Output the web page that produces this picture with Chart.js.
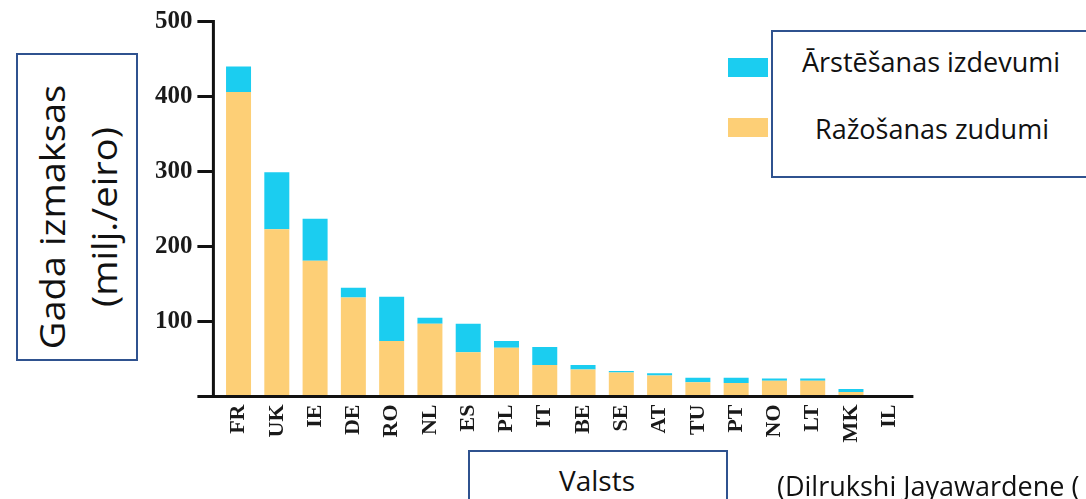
<!DOCTYPE html>
<html>
<head>
<meta charset="utf-8">
<script src="https://cdn.jsdelivr.net/npm/chart.js@4.4.1/dist/chart.umd.min.js"></script>
<style>
  html, body { margin: 0; padding: 0; background: #fff; }
  body { width: 1086px; height: 499px; position: relative; overflow: hidden; font-family: "Open Sans", sans-serif; color: #111; }
  #costChart { position: absolute; left: 0; top: 0; }
  .box { position: absolute; border: 2px solid #2F528F; box-sizing: border-box; background: #fff; }
  .txt { position: absolute; white-space: nowrap; line-height: 1; }
  .swatch { position: absolute; width: 40px; height: 19px; }
</style>
</head>
<body>
<canvas id="costChart" width="1086" height="499"></canvas>

<div class="box" style="left:16px; top:53px; width:122px; height:308px;"></div>
<div class="txt" id="yTitle" style="left:78px; top:217px; font-size:34px; line-height:52px; text-align:center; transform:translate(-50%,-50%) rotate(-90deg) scaleX(1.12);">Gada izmaksas<br>(milj./eiro)</div>

<div class="swatch" id="swMed" style="left:728px; top:58px;"></div>
<div class="swatch" id="swProd" style="left:728px; top:118px;"></div>
<div class="box" style="left:771px; top:30px; width:340px; height:148px;"></div>
<div class="txt" id="legMed" style="left:931px; top:48px; font-size:27px; transform:translateX(-50%);"></div>
<div class="txt" id="legProd" style="left:932px; top:115px; font-size:27px; transform:translateX(-50%);"></div>

<div class="box" style="left:468px; top:450px; width:260px; height:80px;"></div>
<div class="txt" style="left:597px; top:466px; font-size:28px; transform:translateX(-50%);">Valsts</div>

<div class="txt" style="left:777px; top:472px; font-size:27px;">(Dilrukshi Jayawardene (</div>

<script>
// Countries (x axis)
const countries = ["FR", "UK", "IE", "DE", "RO", "NL", "ES", "PL", "IT", "BE", "SE", "AT", "TU", "PT", "NO", "LT", "MK", "IL"];

// Annual cost, million EUR (stacked: production losses at the bottom, treatment costs on top)
const productionLosses = [406, 223, 181, 132, 74, 97, 59, 65, 42, 36, 32, 28, 19, 18, 21, 21, 6, 0];
const treatmentCosts = [34, 76, 56, 13, 59, 8, 38, 9, 24, 6, 2, 3, 6, 7, 3, 3, 4, 0];

// Y axis ticks
const yTicks = [0, 100, 200, 300, 400, 500];

const seriesNames = ["Ražošanas zudumi", "Ārstēšanas izdevumi"];
const colorProd = "#FDCF76";
const colorMed = "#1BCDF0";

// Hand-drawn style axes: vertical axis slightly left of the first bar, baseline running past it
const axisLines = {
  id: "axisLines",
  afterDatasetsDraw(chart) {
    const { ctx, chartArea, scales } = chart;
    const y = scales.y;
    const axisX = chartArea.left - 6;
    const tickStart = axisX - 16;
    const base = y.getPixelForValue(0);
    const top = y.getPixelForValue(yTicks[yTicks.length - 1]);
    ctx.save();
    ctx.strokeStyle = "#111";
    ctx.lineWidth = 3;
    ctx.lineCap = "butt";
    ctx.beginPath();
    ctx.moveTo(axisX, top - 1.5);
    ctx.lineTo(axisX, base);
    yTicks.forEach(function (v) {
      const py = y.getPixelForValue(v);
      ctx.moveTo(tickStart, py);
      ctx.lineTo(axisX, py);
    });
    ctx.moveTo(tickStart, base);
    ctx.lineTo(chartArea.right + 5, base);
    ctx.stroke();
    ctx.restore();
  },
};

const ctx = document.getElementById("costChart").getContext("2d");
window.costChart = new Chart(ctx, {
  type: "bar",
  data: {
    labels: countries,
    datasets: [
      {
        label: seriesNames[0],
        data: productionLosses,
        backgroundColor: colorProd,
        borderWidth: 0,
      },
      {
        label: seriesNames[1],
        data: treatmentCosts,
        backgroundColor: colorMed,
        borderWidth: 0,
      },
    ],
  },
  plugins: [axisLines],
  options: {
    responsive: false,
    devicePixelRatio: 1,
    animation: false,
    layout: {
      padding: { left: 0, right: 177.6, top: 21.5, bottom: 0 },
    },
    datasets: {
      bar: {
        categoryPercentage: 1,
        barPercentage: 0.653,
      },
    },
    scales: {
      x: {
        stacked: true,
        grid: { display: true, drawOnChartArea: false, drawTicks: true, tickLength: 8, color: "rgba(0,0,0,0)" },
        border: { display: false },
        afterFit: function (scale) {
          scale.height = 102.5;
        },
        ticks: {
          autoSkip: false,
          maxRotation: 90,
          minRotation: 90,
          padding: 0,
          color: "#1a1a1a",
          font: { family: "'Liberation Serif', 'DejaVu Serif', serif", size: 22, weight: "bold" },
        },
      },
      y: {
        stacked: true,
        min: yTicks[0],
        max: yTicks[yTicks.length - 1],
        grid: { display: true, drawOnChartArea: false, drawTicks: true, tickLength: 27, color: "rgba(0,0,0,0)" },
        border: { display: false },
        afterFit: function (scale) {
          scale.width = 219.4;
        },
        afterBuildTicks: function (scale) {
          scale.ticks = yTicks.map(function (v) {
            return { value: v };
          });
        },
        ticks: {
          padding: 0,
          color: "#1a1a1a",
          font: { family: "'Liberation Serif', 'DejaVu Serif', serif", size: 25, weight: "bold" },
          callback: function (value) {
            return value === 0 ? "" : value;
          },
        },
      },
    },
    plugins: {
      legend: { display: false },
      tooltip: { enabled: false },
    },
  },
});

// Legend outside the canvas
document.getElementById("legMed").textContent = seriesNames[1];
document.getElementById("legProd").textContent = seriesNames[0];
document.getElementById("swMed").style.background = colorMed;
document.getElementById("swProd").style.background = colorProd;
</script>
</body>
</html>
